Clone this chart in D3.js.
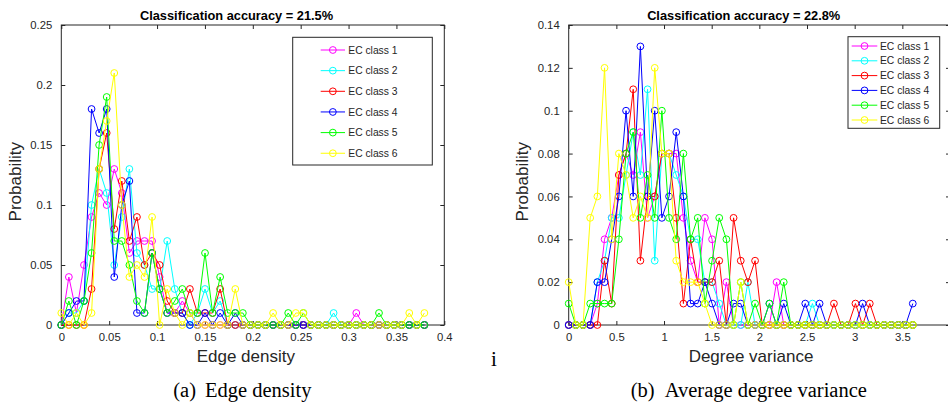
<!DOCTYPE html>
<html>
<head>
<meta charset="utf-8">
<script src="https://cdn.jsdelivr.net/npm/d3@7"></script>
<style>
  html, body { margin: 0; padding: 0; background: #fff; }
  svg { display: block; }
  .tick text { font-family: "Liberation Sans", Arial, Helvetica, sans-serif; font-size: 11.3px; fill: #262626; }
  .tick line { stroke: #262626; stroke-width: 1; }
</style>
</head>
<body>
<svg id="fig" width="948" height="402"></svg>
<script>
// ---- legend / series meta ----
const classNames  = ["EC class 1", "EC class 2", "EC class 3", "EC class 4", "EC class 5", "EC class 6"];
const classColors = ["#ff00ff", "#00ffff", "#ff0000", "#0000ff", "#00ff00", "#ffff00"];

// ---- (a) edge density histogram ----
const edgeBins = [0, 0.0079, 0.0158, 0.0237, 0.0316, 0.0395, 0.0474, 0.0553, 0.0632, 0.0711,
  0.079, 0.0869, 0.0948, 0.1027, 0.1106, 0.1185, 0.1264, 0.1343, 0.1422, 0.1501,
  0.158, 0.1659, 0.1738, 0.1817, 0.1896, 0.1975, 0.2054, 0.2133, 0.2212, 0.2291,
  0.237, 0.2449, 0.2528, 0.2607, 0.2686, 0.2765, 0.2844, 0.2923, 0.3002, 0.3081,
  0.316, 0.3239, 0.3318, 0.3397, 0.3476, 0.3555, 0.3634, 0.3713, 0.3792];
const edgeClass1 = [0, .04, .01, .05, .09, .11, .10, .13, .11, .06,
  .07, .07, .07, .04, .01, .01, .02, .01, 0, 0,
  0, 0, 0, 0, 0, 0, 0, 0, 0, 0,
  0, 0, 0, 0, 0, 0, 0, 0, 0, .01,
  0, 0, 0, 0, 0, 0, 0, 0, 0];
const edgeClass2 = [0, .01, .01, .02, .10, .13, .11, .05, .09, .13,
  .06, .05, .03, .03, .07, .03, .01, 0, .01, .03,
  .01, .02, 0, 0, 0, 0, 0, 0, 0, 0,
  0, 0, 0, 0, 0, 0, .01, 0, 0, 0,
  0, 0, 0, 0, 0, 0, 0, 0, 0];
const edgeClass3 = [0, 0, 0, 0, .03, .13, .16, .08, .12, .07,
  .09, .05, .06, .05, .02, .01, .01, .03, .01, .01,
  .01, .03, 0, 0, 0, 0, 0, 0, 0, 0,
  0, 0, 0, 0, 0, 0, 0, 0, 0, 0,
  0, 0, 0, 0, 0, 0, 0, 0, 0];
const edgeClass4 = [0, .01, .02, .02, .18, .16, .18, .04, .10, .12,
  .01, .01, .06, .03, .01, .01, .01, 0, 0, .01,
  0, .01, 0, .01, 0, 0, 0, 0, 0, 0,
  0, 0, 0, 0, 0, 0, 0, 0, 0, 0,
  0, 0, 0, 0, 0, 0, 0, 0, 0];
const edgeClass5 = [0, .02, 0, .02, .06, .15, .19, .07, .07, .05,
  .02, .01, .06, .03, .01, .02, .03, .01, .01, .06,
  .01, .04, .01, .01, .01, 0, 0, 0, 0, 0,
  .01, 0, .01, 0, 0, 0, 0, 0, 0, 0,
  0, 0, .01, 0, 0, 0, 0, 0, 0];
const edgeClass6 = [.01, 0, .01, 0, .01, .13, .17, .21, .10, .04,
  .05, .04, .09, 0, .03, .01, 0, .01, 0, 0,
  0, 0, 0, .03, 0, 0, 0, 0, .01, 0,
  0, .01, .01, 0, 0, 0, 0, 0, 0, 0,
  0, 0, 0, 0, 0, 0, .01, 0, .01];
const edgeXTicks = [0, 0.05, 0.1, 0.15, 0.2, 0.25, 0.3, 0.35, 0.4];
const edgeYTicks = [0, 0.05, 0.1, 0.15, 0.2, 0.25];

// ---- (b) average degree variance histogram ----
const degBins = [0, 0.0752, 0.1504, 0.2256, 0.3008, 0.376, 0.4512, 0.5264, 0.6016, 0.6768,
  0.752, 0.8272, 0.9024, 0.9776, 1.0528, 1.128, 1.2032, 1.2784, 1.3536, 1.4288,
  1.504, 1.5792, 1.6544, 1.7296, 1.8048, 1.88, 1.9552, 2.0304, 2.1056, 2.1808,
  2.256, 2.3312, 2.4064, 2.4816, 2.5568, 2.632, 2.7072, 2.7824, 2.8576, 2.9328,
  3.008, 3.0832, 3.1584, 3.2336, 3.3088, 3.384, 3.4592, 3.5344, 3.6096];
const degClass1 = [0, 0, 0, 0, .01, .04, .05, .07, .08, .07,
  .09, .05, .06, .08, .08, .08, .05, .03, .02, .05,
  .04, 0, .02, 0, 0, 0, 0, 0, 0, .02,
  0, 0, 0, 0, 0, 0, 0, 0, 0, 0,
  0, 0, 0, 0, 0, 0, 0, 0, 0];
const degClass2 = [0, 0, 0, 0, .02, .03, .05, .05, .07, .09,
  .07, .11, .03, .08, .08, .07, .06, .04, .04, .02,
  .02, .01, 0, 0, 0, .02, 0, 0, 0, 0,
  0, 0, 0, 0, .01, 0, 0, 0, 0, 0,
  0, 0, 0, 0, 0, 0, 0, 0, 0];
const degClass3 = [0, 0, 0, 0, 0, .03, .01, .07, .08, .11,
  .03, .06, .06, .08, .08, .05, .01, .04, .02, .02,
  .02, .03, 0, .05, .03, .02, .03, 0, 0, 0,
  0, 0, 0, 0, 0, 0, 0, .01, 0, 0,
  .01, 0, .01, 0, 0, 0, 0, 0, 0];
const degClass4 = [0, 0, 0, 0, .02, .02, .04, .06, .10, .06,
  .13, .06, .10, .05, .06, .09, .06, .01, .01, .02,
  .01, 0, 0, .01, .01, 0, 0, 0, .01, 0,
  .01, 0, 0, .01, 0, .01, 0, 0, 0, 0,
  0, .01, 0, 0, 0, 0, 0, 0, .01];
const degClass5 = [.01, 0, 0, .01, .01, .01, .01, .04, .08, .09,
  .05, .07, .05, .10, .05, .04, .08, .04, .05, .01,
  .03, .05, .04, 0, .02, 0, .01, 0, .01, 0,
  .02, 0, 0, 0, 0, 0, 0, 0, 0, 0,
  0, 0, 0, 0, 0, 0, 0, 0, 0];
const degClass6 = [.02, 0, 0, .05, .06, .12, .04, .08, .07, .05,
  .06, .05, .12, .08, .08, .03, .02, .02, .02, .01,
  0, 0, 0, 0, .02, 0, 0, 0, 0, 0,
  0, 0, 0, 0, 0, 0, 0, 0, 0, 0,
  0, 0, 0, 0, 0, 0, 0, 0, 0];
const degXTicks = [0, 0.5, 1, 1.5, 2, 2.5, 3, 3.5];
const degYTicks = [0, 0.02, 0.04, 0.06, 0.08, 0.1, 0.12, 0.14];

// ---- panel layout (pixels) ----
const panels = [
  {
    left: 61.3, right: 444.3, top: 25, bottom: 325,
    xDomain: [0, 0.4], yDomain: [0, 0.25],
    bins: edgeBins,
    series: [edgeClass1, edgeClass2, edgeClass3, edgeClass4, edgeClass5, edgeClass6],
    xTicks: edgeXTicks, yTicks: edgeYTicks,
    title: "Classification accuracy = 21.5%", titleX: 236.5,
    xLabel: "Edge density", xLabelX: 245.8,
    yLabelX: 20.5,
    legend: { x: 292.7, y: 37.3, w: 139.6, h: 127.7, row0: 50, rowStep: 20.65, lineX0: 320.7, lineX1: 345, textX: 348.3 },
    capTag: "(a)", capTagX: 173.3, capText: "Edge density", capTextX: 205
  },
  {
    left: 568.7, right: 950, top: 25, bottom: 325,
    xDomain: [0, 4], yDomain: [0, 0.14],
    bins: degBins,
    series: [degClass1, degClass2, degClass3, degClass4, degClass5, degClass6],
    xTicks: degXTicks, yTicks: degYTicks,
    title: "Classification accuracy = 22.8%", titleX: 743.7,
    xLabel: "Degree variance", xLabelX: 751,
    yLabelX: 527.7,
    legend: { x: 848, y: 36.7, w: 91.7, h: 91.6, row0: 46, rowStep: 14.8, lineX0: 851.7, lineX1: 877.3, textX: 880 },
    capTag: "(b)", capTagX: 630.7, capText: "Average degree variance", capTextX: 664.7
  }
];

const sans = '"Liberation Sans", Arial, Helvetica, sans-serif';
const serif = '"Liberation Serif", "Times New Roman", Times, serif';
const axisColor = "#262626";
const markerR = 3.4;

const svg = d3.select("#fig");

function drawPanel(p) {
  const w = p.right - p.left, h = p.bottom - p.top;
  const g = svg.append("g").attr("transform", `translate(${p.left},${p.top})`);
  const x = d3.scaleLinear().domain(p.xDomain).range([0, w]);
  const y = d3.scaleLinear().domain(p.yDomain).range([h, 0]);
  const fmt = d3.format("~g");

  // axes with inward ticks on all four sides
  g.append("g").attr("transform", `translate(0,${h})`)
    .call(d3.axisBottom(x).tickValues(p.xTicks).tickFormat(fmt).tickSize(-4).tickPadding(7.5))
    .call(a => a.select(".domain").remove());
  g.append("g")
    .call(d3.axisTop(x).tickValues(p.xTicks).tickFormat("").tickSize(-4))
    .call(a => a.select(".domain").remove());
  g.append("g")
    .call(d3.axisLeft(y).tickValues(p.yTicks).tickFormat(fmt).tickSize(-4).tickPadding(9))
    .call(a => a.select(".domain").remove());
  g.append("g").attr("transform", `translate(${w},0)`)
    .call(d3.axisRight(y).tickValues(p.yTicks).tickFormat("").tickSize(-4))
    .call(a => a.select(".domain").remove());

  g.append("rect")
    .attr("x", 0).attr("y", 0).attr("width", w).attr("height", h)
    .attr("fill", "none").attr("stroke", axisColor).attr("stroke-width", 1);

  // one polyline with open circle markers per class, class 1 drawn first
  const line = d3.line().x((d, i) => x(p.bins[i])).y(d => y(d));
  p.series.forEach((vals, k) => {
    const sg = g.append("g");
    sg.append("path").datum(vals)
      .attr("d", line).attr("fill", "none")
      .attr("stroke", classColors[k]).attr("stroke-width", 1);
    sg.selectAll("circle").data(vals).join("circle")
      .attr("cx", (d, i) => x(p.bins[i])).attr("cy", d => y(d))
      .attr("r", markerR).attr("fill", "none")
      .attr("stroke", classColors[k]).attr("stroke-width", 1);
  });

  // title and axis labels
  svg.append("text").attr("x", p.titleX).attr("y", 20)
    .attr("text-anchor", "middle").attr("font-family", sans)
    .attr("font-size", 12.8).attr("font-weight", "bold").attr("fill", "#000")
    .text(p.title);
  svg.append("text").attr("x", p.xLabelX).attr("y", 362)
    .attr("text-anchor", "middle").attr("font-family", sans)
    .attr("font-size", 17).attr("fill", axisColor)
    .text(p.xLabel);
  svg.append("text")
    .attr("transform", `translate(${p.yLabelX},181.7) rotate(-90)`)
    .attr("text-anchor", "middle").attr("font-family", sans)
    .attr("font-size", 17).attr("fill", axisColor)
    .text("Probability");

  // legend
  const L = p.legend;
  const lg = svg.append("g");
  lg.append("rect").attr("x", L.x).attr("y", L.y).attr("width", L.w).attr("height", L.h)
    .attr("fill", "#fff").attr("stroke", axisColor).attr("stroke-width", 1);
  classNames.forEach((name, k) => {
    const cy = L.row0 + k * L.rowStep;
    lg.append("line").attr("x1", L.lineX0).attr("x2", L.lineX1).attr("y1", cy).attr("y2", cy)
      .attr("stroke", classColors[k]).attr("stroke-width", 1);
    lg.append("circle").attr("cx", (L.lineX0 + L.lineX1) / 2).attr("cy", cy).attr("r", markerR)
      .attr("fill", "none").attr("stroke", classColors[k]).attr("stroke-width", 1);
    lg.append("text").attr("x", L.textX).attr("y", cy).attr("dy", "0.35em")
      .attr("font-family", sans).attr("font-size", 10.3).attr("fill", axisColor)
      .text(name);
  });

  // sub-caption below the panel
  svg.append("text").attr("x", p.capTagX).attr("y", 396.5)
    .attr("font-family", serif).attr("font-size", 20.5).attr("fill", "#000").text(p.capTag);
  svg.append("text").attr("x", p.capTextX).attr("y", 396.5)
    .attr("font-family", serif).attr("font-size", 20.5).attr("fill", "#000").text(p.capText);
}

panels.forEach(drawPanel);

// stray glyph between the two sub-figures
svg.append("text").attr("x", 491).attr("y", 365.5)
  .attr("font-family", serif).attr("font-size", 21).attr("fill", "#000").text("i");
</script>
</body>
</html>
